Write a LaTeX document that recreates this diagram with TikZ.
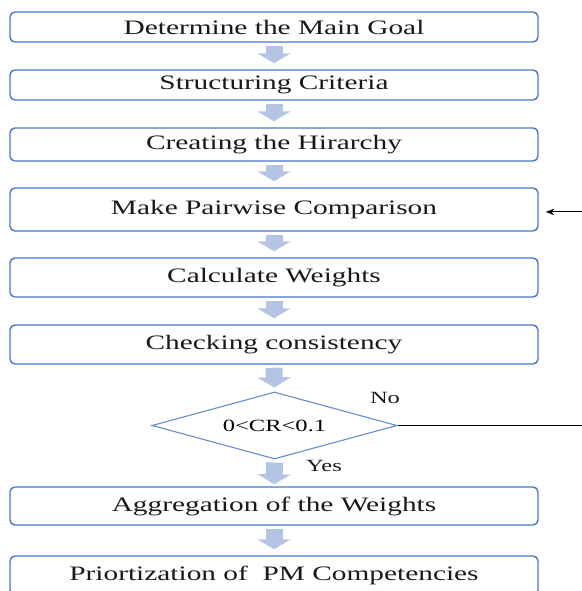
\documentclass[tikz,border=0pt]{standalone}
\usepackage{fontspec}
\setmainfont{Liberation Serif}[FakeStretch=1.43]
\usepackage{tikz}
\usetikzlibrary{arrows.meta,positioning,calc,shapes.geometric}
\definecolor{boxblue}{HTML}{4A76C6}
\definecolor{diablue}{HTML}{6A8DD0}
\definecolor{flowblue}{HTML}{B4C5E4}

\begin{document}
\begin{tikzpicture}[>=Stealth,font=\fontsize{14.6}{17}\selectfont,
 box/.style={draw=boxblue,line width=1pt,rounded corners=3.5pt,minimum width=13.2cm,
  minimum height=#1,inner sep=2pt,text=black!90},
 box/.default=.975cm,
 dia/.style={diamond,aspect=3.66,draw=diablue,line width=.8pt,inner sep=0pt,
  minimum width=6.125cm,minimum height=1.675cm,font=\fontsize{12.2}{14}\selectfont},
 flow/.style={draw=flowblue,line width=.425cm,
  -{Triangle[length=.25cm,width=.825cm]},shorten <=.075cm,shorten >=.15cm},
 lbl/.style={font=\fontsize{12.2}{14}\selectfont,text=black!90},
 fb/.style={->,draw=black,line width=.7pt}]
\useasboundingbox (0,0) rectangle (14.55,-14.775);
\node[box=.75cm] (goal) at (6.85,-.675) {Determine the Main Goal};
\node[box=.75cm] (crit) at (6.85,-2.125) {Structuring Criteria};
\node[box=.825cm] (hier) at (6.85,-3.6125) {Creating the Hirarchy};
\node[box=1.075cm] (pair) at (6.85,-5.2375) {Make Pairwise Comparison};
\node[box] (wts) at (6.85,-6.9375) {Calculate Weights};
\node[box] (cons) at (6.85,-8.6125) {Checking consistency};
\node[dia] (cr) at (6.8625,-10.6375) {0<CR<0.1};
\node[box=.95cm] (agg) at (6.85,-12.65) {Aggregation of the Weights};
\node[box] (prio) at (6.85,-14.3875) {Priortization of\ \ PM Competencies};
% block arrows
\foreach \a/\b in {goal/crit,crit/hier,hier/pair,pair/wts,wts/cons}
 \draw[flow] (\a.south) -- (\b.north);
\draw[flow,shorten >=.1cm] (cons.south) -- (cr.north);
\draw[flow,shorten >=.05cm] (cr.south) -- (agg.north);
\draw[flow] (agg.south) -- (prio.north);
% feedback loop
\coordinate (back) at (14.8,-10.6375);
\draw[fb] (cr.east) -- (back) |- ([xshift=.175cm,yshift=-.06cm]pair.east);
\node[lbl] (no) at (9.625,-9.95) {No};
\node[lbl] (yes) at (8.1,-11.65) {Yes};
\end{tikzpicture}
\end{document}
